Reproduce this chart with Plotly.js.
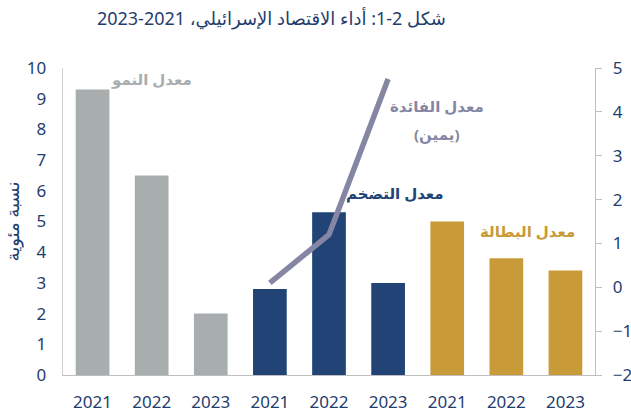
<!DOCTYPE html>
<html><head><meta charset="utf-8">
<script src="https://cdn.plot.ly/plotly-3.0.1.min.js"></script>
<style>html,body{margin:0;padding:0;background:#fff}#c{width:631px;height:415px}</style>
</head><body><div id="c"></div>
<script>
const years = ['2021','2022','2023','2021','2022','2023','2021','2022','2023'];
const growth = [9.3, 6.5, 2.0];
const inflation = [2.8, 5.3, 3.0];
const unemployment = [5.0, 3.8, 3.4];
const interest = [0.1, 1.2, 4.75];

const pos = years.map((_, i) => i);
const navy = '#1F3D6E';
const traces = [
  {type:'bar', x:pos.slice(0,3), y:growth, marker:{color:'#A8ADAD'}, hoverinfo:'none'},
  {type:'bar', x:pos.slice(3,6), y:inflation, marker:{color:'#214375'}, hoverinfo:'none'},
  {type:'bar', x:pos.slice(6,9), y:unemployment, marker:{color:'#C89A38'}, hoverinfo:'none'},
  {type:'scatter', mode:'lines', x:pos.slice(3,6), y:interest, yaxis:'y2',
   line:{color:'#8486A3', width:5.5}, hoverinfo:'none'}
];
const f = 'Noto Sans, DejaVu Sans, sans-serif';
const layout = {
  width:631, height:415,
  margin:{l:63, r:36, t:68, b:40},
  paper_bgcolor:'#fff', plot_bgcolor:'#fff',
  showlegend:false, barmode:'overlay', bargap:0.43,
  font:{family:f, color:navy},
  title:{text:'شكل 2-1: أداء الاقتصاد الإسرائيلي، 2021-2023', x:0.43, xanchor:'center', y:0.955, yanchor:'middle',
         font:{family:f, size:18, color:navy}},
  xaxis:{range:[-0.5,8.5], tickvals:pos, ticktext:years, showgrid:false, zeroline:false,
         showline:true, linecolor:'#BFBFBF', linewidth:1.3, ticks:'', tickfont:{size:17, color:navy},
         ticklabelstandoff:11},
  yaxis:{range:[0,10], dtick:1, showgrid:false, zeroline:false, showline:true, linecolor:'#D0D0D0',
         linewidth:1.3, ticks:'', tickfont:{size:17, color:navy}, ticklabelstandoff:12,
         title:{text:'نسبة مئوية', font:{size:18, color:navy}, standoff:6}},
  yaxis2:{range:[-2,5], dtick:1, overlaying:'y', side:'right', showgrid:false, zeroline:false,
          showline:true, linecolor:'#BFBFBF', linewidth:1.3, ticks:'outside', ticklen:6, tickcolor:'#BFBFBF',
          tickfont:{size:17, color:navy}, ticklabelstandoff:7},
  annotations:[
    {text:'<b>معدل النمو</b>', x:1, y:9.65, xref:'x', yref:'y', showarrow:false, font:{size:15, color:'#A8ADAD'}},
    {text:'<b>معدل الفائدة</b>', x:5.83, y:4.13, xref:'x', yref:'y2', showarrow:false, font:{size:15, color:'#8486A3'}},
    {text:'<b>(يمين)</b>', x:5.83, y:3.49, xref:'x', yref:'y2', showarrow:false, font:{size:15, color:'#8486A3'}},
    {text:'<b>معدل التضخم</b>', x:5.12, y:5.93, xref:'x', yref:'y', showarrow:false, font:{size:15, color:'#214375'}},
    {text:'<b>معدل البطالة</b>', x:7.35, y:4.69, xref:'x', yref:'y', showarrow:false, font:{size:15, color:'#C89A38'}}
  ]
};
Plotly.newPlot('c', traces, layout, {staticPlot:true, displayModeBar:false});
</script></body></html>
